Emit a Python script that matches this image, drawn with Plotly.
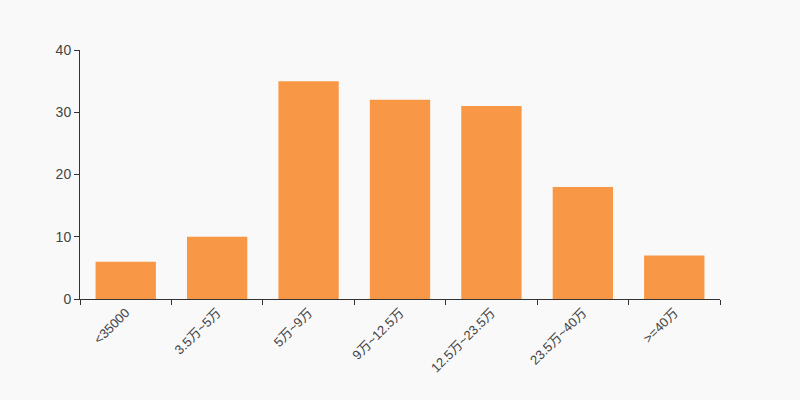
import plotly.graph_objects as go

categories = ["<35000", "3.5万~5万", "5万~9万", "9万~12.5万", "12.5万~23.5万", "23.5万~40万", ">=40万"]
values = [6, 10, 35, 32, 31, 18, 7]
y_ticks = [0, 10, 20, 30, 40]

fig = go.Figure(go.Bar(x=categories, y=values, marker=dict(color="#f89846", line=dict(width=0)), hoverinfo="x+y"))

fig.update_layout(
    width=800, height=400,
    paper_bgcolor="#f9f9f9", plot_bgcolor="#f9f9f9",
    margin=dict(l=80, r=80, t=50, b=101, autoexpand=False),
    bargap=0.34,
    showlegend=False,
    font=dict(family="Liberation Sans, Arial, Noto Sans CJK SC, sans-serif", size=13, color="#444"),
)
fig.update_xaxes(
    type="category", tickson="boundaries", ticks="outside", ticklen=5, tickcolor="#333",
    showline=True, linecolor="#333", linewidth=1, showgrid=False, tickangle=-45,
    tickfont=dict(size=13, color="#444"),
)
fig.update_yaxes(
    range=[0, 40], tickvals=y_ticks, ticks="outside", ticklen=5, tickcolor="#333",
    showline=True, linecolor="#333", linewidth=1, showgrid=False, zeroline=False,
    tickfont=dict(size=14, color="#444"),
)
fig.write_html("out.html", config={"displayModeBar": False},
               post_script="document.body.style.margin='0';document.body.style.background='#f9f9f9';")
